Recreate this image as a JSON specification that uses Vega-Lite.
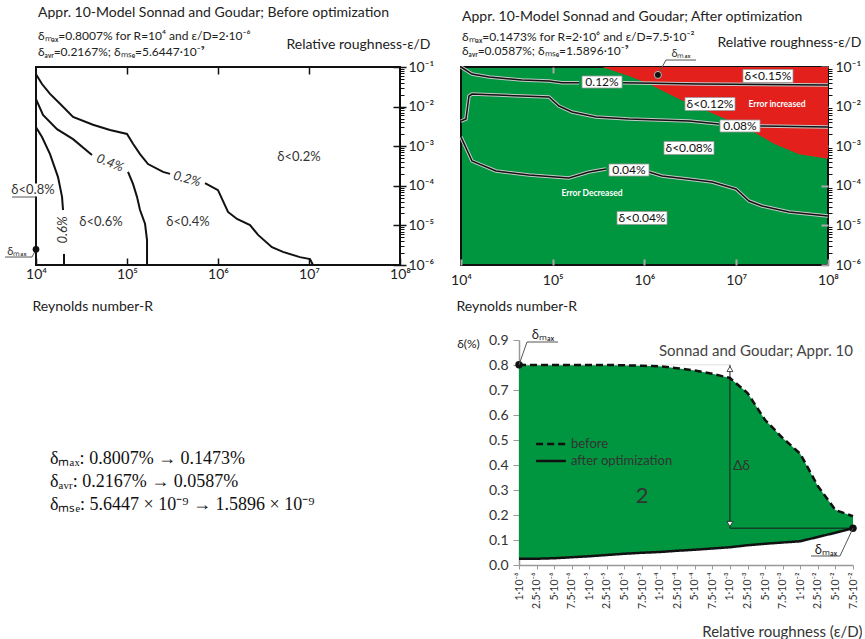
{
  "$schema": "https://vega.github.io/schema/vega-lite/v6.json",
  "padding": {"left": 2, "top": 5, "right": 0, "bottom": 0},
  "background": "white",
  "spacing": 15,
  "resolve": {"legend": {"strokeDash": "independent", "shape": "independent"}},
  "config": {
    "font": "Lato",
    "view": {"stroke": null},
    "axis": {"grid": false, "labelFont": "Lato", "titleFont": "Lato", "labelColor": "#222", "titleColor": "#222", "titleFontWeight": "normal", "labelFlush": false, "labelOverlap": false, "labelBound": false},
    "title": {"font": "Lato", "subtitleFont": "Lato", "fontWeight": "normal", "color": "#222", "subtitleColor": "#222"},
    "text": {"font": "Lato"}
  },
  "datasets": {
    "tl_lines": [
      {"seg":"A1","k":1,"R":10000,"eps":0.066},{"seg":"A1","k":2,"R":11640,"eps":0.0372},{"seg":"A1","k":3,"R":14260,"eps":0.0209},{"seg":"A1","k":4,"R":18370,"eps":0.01175},{"seg":"A1","k":5,"R":25530,"eps":0.0055},{"seg":"A1","k":6,"R":42270,"eps":0.00347},{"seg":"A1","k":7,"R":65010,"eps":0.00257},{"seg":"A1","k":8,"R":100000,"eps":0.00204},{"seg":"A1","k":9,"R":116400,"eps":0.00115},{"seg":"A1","k":10,"R":139000,"eps":0.00063},{"seg":"A1","k":11,"R":170200,"eps":0.000355},{"seg":"A1","k":12,"R":248900,"eps":0.000224},{"seg":"A1","k":13,"R":297200,"eps":0.0002},
      {"seg":"A2","k":1,"R":719500,"eps":0.000117},{"seg":"A2","k":2,"R":1000000,"eps":7.76e-5},{"seg":"A2","k":3,"R":1288000,"eps":2.19e-5},{"seg":"A2","k":4,"R":1618000,"eps":1.45e-5},{"seg":"A2","k":5,"R":2249000,"eps":1.02e-5},{"seg":"A2","k":6,"R":2754000,"eps":5.75e-6},{"seg":"A2","k":7,"R":3917000,"eps":2.82e-6},{"seg":"A2","k":8,"R":5176000,"eps":2.14e-6},{"seg":"A2","k":9,"R":7943000,"eps":1.58e-6},{"seg":"A2","k":10,"R":10260000,"eps":1.41e-6},{"seg":"A2","k":11,"R":11070000,"eps":1e-6},
      {"seg":"B1","k":1,"R":10000,"eps":0.0155},{"seg":"B1","k":2,"R":11940,"eps":0.00617},{"seg":"B1","k":3,"R":17020,"eps":0.00269},{"seg":"B1","k":4,"R":25530,"eps":0.00151},{"seg":"B1","k":5,"R":41210,"eps":0.000603},
      {"seg":"B2","k":1,"R":102600,"eps":0.000224},{"seg":"B2","k":2,"R":116400,"eps":0.000112},{"seg":"B2","k":3,"R":128800,"eps":5.25e-5},{"seg":"B2","k":4,"R":139000,"eps":2.45e-5},{"seg":"B2","k":5,"R":157800,"eps":1.1e-5},{"seg":"B2","k":6,"R":166000,"eps":4.27e-6},{"seg":"B2","k":7,"R":166000,"eps":1e-6},
      {"seg":"C1","k":1,"R":10000,"eps":0.00302},{"seg":"C1","k":2,"R":11640,"eps":0.0017},{"seg":"C1","k":3,"R":14260,"eps":0.00063},{"seg":"C1","k":4,"R":17460,"eps":0.000166},{"seg":"C1","k":5,"R":19320,"eps":5.25e-5},{"seg":"C1","k":6,"R":19820,"eps":2.45e-5},
      {"seg":"C2","k":1,"R":20320,"eps":1.9e-6},{"seg":"C2","k":2,"R":20320,"eps":1e-6}
    ],
    "tr_lines": [
      {"seg":"L12a","k":1,"R":10000,"eps":0.1},{"seg":"L12a","k":2,"R":13180,"eps":0.0665},{"seg":"L12a","k":3,"R":20180,"eps":0.0562},{"seg":"L12a","k":4,"R":46240,"eps":0.0468},{"seg":"L12a","k":5,"R":90990,"eps":0.0443},{"seg":"L12a","k":6,"R":125900,"eps":0.0398},{"seg":"L12a","k":7,"R":193200,"eps":0.0398},
      {"seg":"L12b","k":1,"R":583400,"eps":0.0398},{"seg":"L12b","k":2,"R":3926000,"eps":0.0372},{"seg":"L12b","k":3,"R":100000000,"eps":0.0351},
      {"seg":"L08a","k":1,"R":10000,"eps":0.00432},{"seg":"L08a","k":2,"R":11320,"eps":0.00486},{"seg":"L08a","k":3,"R":12220,"eps":0.0185},{"seg":"L08a","k":4,"R":13180,"eps":0.0208},{"seg":"L08a","k":5,"R":90990,"eps":0.01746},{"seg":"L08a","k":6,"R":117000,"eps":0.01035},{"seg":"L08a","k":7,"R":162200,"eps":0.00731},{"seg":"L08a","k":8,"R":295800,"eps":0.00546},{"seg":"L08a","k":9,"R":677600,"eps":0.00486},{"seg":"L08a","k":10,"R":3055000,"eps":0.00432},{"seg":"L08a","k":11,"R":6486000,"eps":0.00363},
      {"seg":"L08b","k":1,"R":17700000,"eps":0.00324},{"seg":"L08b","k":2,"R":100000000,"eps":0.00305},
      {"seg":"L04a","k":1,"R":10000,"eps":0.0017},{"seg":"L04a","k":2,"R":13180,"eps":0.000423},{"seg":"L04a","k":3,"R":24040,"eps":0.000237},{"seg":"L04a","k":4,"R":55080,"eps":0.000187},{"seg":"L04a","k":5,"R":150300,"eps":0.000157},{"seg":"L04a","k":6,"R":248300,"eps":0.000223},{"seg":"L04a","k":7,"R":380200,"eps":0.000265},
      {"seg":"L04b","k":1,"R":1119000,"eps":0.000223},{"seg":"L04b","k":2,"R":1552000,"eps":0.000177},{"seg":"L04b","k":3,"R":3639000,"eps":0.00014},{"seg":"L04b","k":4,"R":5445000,"eps":0.000125},{"seg":"L04b","k":5,"R":9930000,"eps":8.3e-5},{"seg":"L04b","k":6,"R":13770000,"eps":4.13e-5},{"seg":"L04b","k":7,"R":19100000,"eps":3.09e-5},{"seg":"L04b","k":8,"R":37580000,"eps":2.18e-5},{"seg":"L04b","k":9,"R":100000000,"eps":1.73e-5}
    ],
    "br": [
      {"eps":"1·10⁻⁶","before":0.8007,"after":0.025},
      {"eps":"2.5·10⁻⁶","before":0.800,"after":0.025},
      {"eps":"5·10⁻⁶","before":0.800,"after":0.027},
      {"eps":"7.5·10⁻⁶","before":0.800,"after":0.031},
      {"eps":"1·10⁻⁵","before":0.800,"after":0.035},
      {"eps":"2.5·10⁻⁵","before":0.800,"after":0.040},
      {"eps":"5·10⁻⁵","before":0.799,"after":0.045},
      {"eps":"7.5·10⁻⁵","before":0.797,"after":0.049},
      {"eps":"1·10⁻⁴","before":0.795,"after":0.052},
      {"eps":"2.5·10⁻⁴","before":0.787,"after":0.057},
      {"eps":"5·10⁻⁴","before":0.778,"after":0.061},
      {"eps":"7.5·10⁻⁴","before":0.765,"after":0.066},
      {"eps":"1·10⁻³","before":0.748,"after":0.071},
      {"eps":"2.5·10⁻³","before":0.688,"after":0.079},
      {"eps":"5·10⁻³","before":0.58,"after":0.085},
      {"eps":"7.5·10⁻³","before":0.508,"after":0.090},
      {"eps":"1·10⁻²","before":0.445,"after":0.095},
      {"eps":"2.5·10⁻²","before":0.316,"after":0.112},
      {"eps":"5·10⁻²","before":0.22,"after":0.129},
      {"eps":"7.5·10⁻²","before":0.195,"after":0.1473}
    ]
  },
  "vconcat": [
    {
      "spacing": 14,
      "hconcat": [
        {
          "width": 364, "height": 198,
          "title": {"text": "Appr. 10-Model Sonnad and Goudar; Before optimization", "subtitle": ["δₘₐₓ=0.8007% for R=10⁴ and ε/D=2·10⁻⁶", "δₐᵥᵣ=0.2167%; δₘₛₑ=5.6447·10⁻⁹"], "anchor": "start", "frame": "group", "fontSize": 14, "subtitleFontSize": 12, "subtitlePadding": 11, "subtitleLineHeight": 16, "offset": -21, "dx": 2},
          "view": {"stroke": "#111", "strokeWidth": 2},
          "resolve": {"axis": {"x": "independent", "y": "independent"}},
          "layer": [
            {
              "data": {"name": "tl_lines"},
              "mark": {"type": "line", "color": "#111", "strokeWidth": 2},
              "encoding": {
                "x": {"field": "R", "type": "quantitative", "scale": {"type": "log", "domain": [10000, 100000000], "nice": false},
                  "axis": {"orient": "bottom", "values": [10000, 100000, 1000000, 10000000, 100000000], "labelExpr": "'10' + ['⁰','¹','²','³','⁴','⁵','⁶','⁷','⁸','⁹'][round(log(datum.value)/LN10)]", "tickSize": -7, "tickColor": "#111", "tickWidth": 1.5, "domain": false, "labelFontSize": 14, "labelPadding": 9, "title": "Reynolds number-R", "titleFontSize": 14, "titleAlign": "left", "titleBaseline": "middle", "titleX": -4, "titleY": 41}},
                "y": {"field": "eps", "type": "quantitative", "scale": {"type": "log", "domain": [1e-6, 0.1], "nice": false},
                  "axis": {"orient": "right", "values": [1e-6, 1e-5, 1e-4, 1e-3, 1e-2, 0.1], "labelExpr": "'10⁻' + ['⁰','¹','²','³','⁴','⁵','⁶','⁷','⁸','⁹'][round(-log(datum.value)/LN10)]", "tickSize": 6, "tickColor": "#111", "tickWidth": 1.5, "domain": false, "labelFontSize": 14, "labelPadding": 2, "title": "Relative roughness-ε/D", "titleFontSize": 14, "titleAngle": 0, "titleAlign": "right", "titleBaseline": "middle", "titleX": 30, "titleY": -23}},
                "detail": {"field": "seg"},
                "order": {"field": "k"}
              }
            },
            {
              "data": {"values": [{"R": 7760000, "eps": 0.000537, "t": "δ<0.2%"}, {"R": 467700, "eps": 1.23e-5, "t": "δ<0.4%"}, {"R": 51760, "eps": 1.23e-5, "t": "δ<0.6%"}]},
              "mark": {"type": "text", "fontSize": 13, "color": "#333"},
              "encoding": {
                "x": {"field": "R", "type": "quantitative", "scale": {"type": "log", "domain": [10000, 100000000], "nice": false},
                  "axis": {"orient": "top", "values": [100000, 1000000, 10000000], "labels": false, "tickSize": -7, "tickColor": "#111", "tickWidth": 1.5, "domain": false, "title": null}},
                "y": {"field": "eps", "type": "quantitative", "scale": {"type": "log", "domain": [1e-6, 0.1], "nice": false},
                  "axis": {"orient": "right", "values": [2e-6,3e-6,4e-6,5e-6,6e-6,7e-6,8e-6,9e-6,2e-5,3e-5,4e-5,5e-5,6e-5,7e-5,8e-5,9e-5,2e-4,3e-4,4e-4,5e-4,6e-4,7e-4,8e-4,9e-4,2e-3,3e-3,4e-3,5e-3,6e-3,7e-3,8e-3,9e-3,2e-2,3e-2,4e-2,5e-2,6e-2,7e-2,8e-2,9e-2], "labels": false, "tickSize": 4, "tickColor": "#111", "tickWidth": 1, "domain": false, "title": null}},
                "text": {"field": "t"}
              }
            },
            {
              "data": {"values": [{"R": 456000, "eps": 0.000148, "t": "0.2%"}]},
              "mark": {"type": "text", "fontSize": 13, "fontStyle": "italic", "color": "#333", "angle": 15},
              "encoding": {
                "x": {"field": "R", "type": "quantitative", "scale": {"type": "log", "domain": [10000, 100000000], "nice": false}, "axis": null},
                "y": {"field": "eps", "type": "quantitative", "scale": {"type": "log", "domain": [1e-6, 0.1], "nice": false},
                  "axis": {"orient": "right", "values": [1e-6, 1e-5, 1e-4, 1e-3, 1e-2, 0.1], "labels": false, "tickSize": -7, "tickColor": "#111", "tickWidth": 1.5, "domain": false, "title": null}},
                "text": {"field": "t"}
              }
            },
            {
              "data": {"values": [{"R": 65000, "eps": 0.000377, "t": "0.4%"}]},
              "mark": {"type": "text", "fontSize": 13, "fontStyle": "italic", "color": "#333", "angle": 22},
              "encoding": {
                "x": {"field": "R", "type": "quantitative", "scale": {"type": "log", "domain": [10000, 100000000], "nice": false}, "axis": null},
                "y": {"field": "eps", "type": "quantitative", "scale": {"type": "log", "domain": [1e-6, 0.1], "nice": false}, "axis": null},
                "text": {"field": "t"}
              }
            },
            {
              "data": {"values": [{"R": 19800, "eps": 7.65e-6, "t": "0.6%"}]},
              "mark": {"type": "text", "fontSize": 13, "fontStyle": "italic", "color": "#333", "angle": 270},
              "encoding": {
                "x": {"field": "R", "type": "quantitative", "scale": {"type": "log", "domain": [10000, 100000000], "nice": false}, "axis": null},
                "y": {"field": "eps", "type": "quantitative", "scale": {"type": "log", "domain": [1e-6, 0.1], "nice": false}, "axis": null},
                "text": {"field": "t"}
              }
            },
            {
              "data": {"values": [{"R": 9270, "eps": 7.83e-5}]},
              "mark": {"type": "point", "shape": "M-1,-0.3H1V0.3H-1Z", "size": 1936, "filled": true, "fill": "white", "opacity": 1, "strokeWidth": 0},
              "encoding": {
                "x": {"field": "R", "type": "quantitative", "scale": {"type": "log", "domain": [10000, 100000000], "nice": false}, "axis": null},
                "y": {"field": "eps", "type": "quantitative", "scale": {"type": "log", "domain": [1e-6, 0.1], "nice": false}, "axis": null}
              }
            },
            {
              "data": {"values": [{"R": 9270, "eps": 7.83e-5, "t": "δ<0.8%"}]},
              "mark": {"type": "text", "fontSize": 13, "color": "#333"},
              "encoding": {
                "x": {"field": "R", "type": "quantitative", "scale": {"type": "log", "domain": [10000, 100000000], "nice": false}, "axis": null},
                "y": {"field": "eps", "type": "quantitative", "scale": {"type": "log", "domain": [1e-6, 0.1], "nice": false}, "axis": null},
                "text": {"field": "t"}
              }
            },
            {
              "data": {"values": [{"R": 6170, "eps": 2.1e-6, "t": "δₘₐₓ"}]},
              "mark": {"type": "text", "fontSize": 11, "color": "#333"},
              "encoding": {
                "x": {"field": "R", "type": "quantitative", "scale": {"type": "log", "domain": [10000, 100000000], "nice": false}, "axis": null},
                "y": {"field": "eps", "type": "quantitative", "scale": {"type": "log", "domain": [1e-6, 0.1], "nice": false}, "axis": null},
                "text": {"field": "t"}
              }
            },
            {
              "data": {"values": [{"seg": "m", "k": 1, "R": 4571, "eps": 1.59e-6}, {"seg": "m", "k": 2, "R": 9036, "eps": 1.59e-6}, {"seg": "m", "k": 3, "R": 10000, "eps": 2.5e-6}, {"seg": "u", "k": 1, "R": 5450, "eps": 5.21e-5}, {"seg": "u", "k": 2, "R": 10000, "eps": 5.21e-5}]},
              "mark": {"type": "line", "color": "#555", "strokeWidth": 1},
              "encoding": {
                "x": {"field": "R", "type": "quantitative", "scale": {"type": "log", "domain": [10000, 100000000], "nice": false}, "axis": null},
                "y": {"field": "eps", "type": "quantitative", "scale": {"type": "log", "domain": [1e-6, 0.1], "nice": false}, "axis": null},
                "detail": {"field": "seg"},
                "order": {"field": "k"}
              }
            },
            {
              "data": {"values": [{"R": 10000, "eps": 2.5e-6}]},
              "mark": {"type": "point", "shape": "circle", "filled": true, "color": "#111", "opacity": 1, "size": 45},
              "encoding": {
                "x": {"field": "R", "type": "quantitative", "scale": {"type": "log", "domain": [10000, 100000000], "nice": false}, "axis": null},
                "y": {"field": "eps", "type": "quantitative", "scale": {"type": "log", "domain": [1e-6, 0.1], "nice": false}, "axis": null}
              }
            }
          ]
        },
        {
          "width": 367, "height": 198,
          "title": {"text": "Appr. 10-Model Sonnad and Goudar; After optimization", "subtitle": ["δₘₐₓ=0.1473% for R=2·10⁶ and ε/D=7.5·10⁻²", "δₐᵥᵣ=0.0587%; δₘₛₑ=1.5896·10⁻⁹"], "anchor": "start", "frame": "group", "fontSize": 14, "subtitleFontSize": 12, "subtitlePadding": 8, "subtitleLineHeight": 14, "offset": -22, "dx": 1},
          "view": {"fill": "#00963f", "stroke": "#111", "strokeWidth": 2},
          "resolve": {"axis": {"x": "independent", "y": "independent"}},
          "layer": [
            {
              "data": {"values": [{"R": 344400, "eps": 0.1}, {"R": 676100, "eps": 0.0589}, {"R": 1119000, "eps": 0.0372}, {"R": 2377000, "eps": 0.0155}, {"R": 5715000, "eps": 0.00646}, {"R": 13770000, "eps": 0.00269}, {"R": 25760000, "eps": 0.00115}, {"R": 48310000, "eps": 0.00063}, {"R": 100000000, "eps": 0.000479}]},
              "mark": {"type": "area", "color": "#e3201b", "opacity": 1},
              "encoding": {
                "x": {"field": "R", "type": "quantitative", "scale": {"type": "log", "domain": [10000, 100000000], "nice": false},
                  "axis": {"orient": "bottom", "values": [10000, 100000, 1000000, 10000000, 100000000], "labelExpr": "'10' + ['⁰','¹','²','³','⁴','⁵','⁶','⁷','⁸','⁹'][round(log(datum.value)/LN10)]", "tickSize": -6, "tickColor": "#aaa", "tickWidth": 2, "domain": false, "labelFontSize": 14, "labelPadding": 14, "title": "Reynolds number-R", "titleFontSize": 14, "titleAlign": "left", "titleBaseline": "middle", "titleX": -5, "titleY": 41}},
                "y": {"field": "eps", "type": "quantitative", "scale": {"type": "log", "domain": [1e-6, 0.1], "nice": false},
                  "axis": {"orient": "right", "values": [1e-6, 1e-5, 1e-4, 1e-3, 1e-2, 0.1], "labelExpr": "'10⁻' + ['⁰','¹','²','³','⁴','⁵','⁶','⁷','⁸','⁹'][round(-log(datum.value)/LN10)]", "tickSize": -7, "tickColor": "#aaa", "tickWidth": 2, "domain": false, "labelFontSize": 14, "labelPadding": 14, "title": "Relative roughness-ε/D", "titleFontSize": 14, "titleAngle": 0, "titleAlign": "right", "titleBaseline": "middle", "titleX": 33, "titleY": -25}},
                "y2": {"datum": 0.1}
              }
            },
            {
              "data": {"name": "tr_lines"},
              "mark": {"type": "line", "color": "#c8c8c8", "strokeWidth": 3.5},
              "encoding": {
                "x": {"field": "R", "type": "quantitative", "scale": {"type": "log", "domain": [10000, 100000000], "nice": false},
                  "axis": {"orient": "top", "values": [100000, 1000000, 10000000], "labels": false, "tickSize": -6, "tickColor": "#aaa", "tickWidth": 2, "domain": false, "title": null}},
                "y": {"field": "eps", "type": "quantitative", "scale": {"type": "log", "domain": [1e-6, 0.1], "nice": false},
                  "axis": {"orient": "right", "values": [2e-6,3e-6,4e-6,5e-6,6e-6,7e-6,8e-6,9e-6,2e-5,3e-5,4e-5,5e-5,6e-5,7e-5,8e-5,9e-5,2e-4,3e-4,4e-4,5e-4,6e-4,7e-4,8e-4,9e-4,2e-3,3e-3,4e-3,5e-3,6e-3,7e-3,8e-3,9e-3,2e-2,3e-2,4e-2,5e-2,6e-2,7e-2,8e-2,9e-2], "labels": false, "tickSize": 4, "tickColor": "#111", "tickWidth": 1, "domain": false, "title": null}},
                "detail": {"field": "seg"},
                "order": {"field": "k"}
              }
            },
            {
              "data": {"name": "tr_lines"},
              "mark": {"type": "line", "color": "#111", "strokeWidth": 1.5},
              "encoding": {
                "x": {"field": "R", "type": "quantitative", "scale": {"type": "log", "domain": [10000, 100000000], "nice": false}, "axis": null},
                "y": {"field": "eps", "type": "quantitative", "scale": {"type": "log", "domain": [1e-6, 0.1], "nice": false}, "axis": null},
                "detail": {"field": "seg"},
                "order": {"field": "k"}
              }
            },
            {
              "data": {"values": [{"R": 344400, "eps": 0.0418}, {"R": 10990000, "eps": 0.00324}, {"R": 677600, "eps": 0.00025}]},
              "mark": {"type": "point", "shape": "M-1,-0.3H1V0.3H-1Z", "size": 1600, "filled": true, "fill": "white", "stroke": "#999", "strokeWidth": 0.8, "opacity": 1},
              "encoding": {
                "x": {"field": "R", "type": "quantitative", "scale": {"type": "log", "domain": [10000, 100000000], "nice": false}, "axis": null},
                "y": {"field": "eps", "type": "quantitative", "scale": {"type": "log", "domain": [1e-6, 0.1], "nice": false}, "axis": null}
              }
            },
            {
              "data": {"values": [{"R": 22180000, "eps": 0.0593}, {"R": 5176000, "eps": 0.01164}, {"R": 3055000, "eps": 0.000902}, {"R": 939700, "eps": 1.54e-5}]},
              "mark": {"type": "point", "shape": "M-1,-0.26H1V0.26H-1Z", "size": 2500, "filled": true, "fill": "white", "stroke": "#999", "strokeWidth": 0.8, "opacity": 1},
              "encoding": {
                "x": {"field": "R", "type": "quantitative", "scale": {"type": "log", "domain": [10000, 100000000], "nice": false}, "axis": null},
                "y": {"field": "eps", "type": "quantitative", "scale": {"type": "log", "domain": [1e-6, 0.1], "nice": false}, "axis": null}
              }
            },
            {
              "data": {"values": [{"R": 344400, "eps": 0.0418, "t": "0.12%"}, {"R": 10990000, "eps": 0.00324, "t": "0.08%"}, {"R": 677600, "eps": 0.00025, "t": "0.04%"}, {"R": 22180000, "eps": 0.0593, "t": "δ<0.15%"}, {"R": 5176000, "eps": 0.01164, "t": "δ<0.12%"}, {"R": 3055000, "eps": 0.000902, "t": "δ<0.08%"}, {"R": 939700, "eps": 1.54e-5, "t": "δ<0.04%"}]},
              "mark": {"type": "text", "fontSize": 12, "color": "#111", "baseline": "middle"},
              "encoding": {
                "x": {"field": "R", "type": "quantitative", "scale": {"type": "log", "domain": [10000, 100000000], "nice": false}, "axis": null},
                "y": {"field": "eps", "type": "quantitative", "scale": {"type": "log", "domain": [1e-6, 0.1], "nice": false}, "axis": null},
                "text": {"field": "t"}
              }
            },
            {
              "data": {"values": [{"R": 27800000, "eps": 0.01164, "t": "Error increased"}, {"R": 267900, "eps": 6.58e-5, "t": "Error Decreased"}]},
              "mark": {"type": "text", "fontSize": 8.5, "fontWeight": "bold", "color": "white", "baseline": "middle"},
              "encoding": {
                "x": {"field": "R", "type": "quantitative", "scale": {"type": "log", "domain": [10000, 100000000], "nice": false}, "axis": null},
                "y": {"field": "eps", "type": "quantitative", "scale": {"type": "log", "domain": [1e-6, 0.1], "nice": false}, "axis": null},
                "text": {"field": "t"}
              }
            },
            {
              "data": {"values": [{"k": 1, "R": 1400000, "eps": 0.063}, {"k": 2, "R": 1714000, "eps": 0.15}, {"k": 3, "R": 3640000, "eps": 0.15}]},
              "mark": {"type": "line", "color": "#555", "strokeWidth": 1},
              "encoding": {
                "x": {"field": "R", "type": "quantitative", "scale": {"type": "log", "domain": [10000, 100000000], "nice": false}, "axis": null},
                "y": {"field": "eps", "type": "quantitative", "scale": {"type": "log", "domain": [1e-6, 0.1], "nice": false}, "axis": null},
                "order": {"field": "k"}
              }
            },
            {
              "data": {"values": [{"R": 1400000, "eps": 0.063}]},
              "mark": {"type": "point", "shape": "circle", "filled": true, "fill": "#111", "stroke": "#bbb", "strokeWidth": 1, "opacity": 1, "size": 50},
              "encoding": {
                "x": {"field": "R", "type": "quantitative", "scale": {"type": "log", "domain": [10000, 100000000], "nice": false}, "axis": null},
                "y": {"field": "eps", "type": "quantitative", "scale": {"type": "log", "domain": [1e-6, 0.1], "nice": false}, "axis": null}
              }
            },
            {
              "data": {"values": [{"R": 2500000, "eps": 0.213, "t": "δₘₐₓ"}]},
              "mark": {"type": "text", "fontSize": 11, "color": "#333"},
              "encoding": {
                "x": {"field": "R", "type": "quantitative", "scale": {"type": "log", "domain": [10000, 100000000], "nice": false}, "axis": null},
                "y": {"field": "eps", "type": "quantitative", "scale": {"type": "log", "domain": [1e-6, 0.1], "nice": false}, "axis": null},
                "text": {"field": "t"}
              }
            }
          ]
        }
      ]
    },
    {
      "spacing": 40,
      "resolve": {"legend": {"strokeDash": "independent", "shape": "independent"}},
      "hconcat": [
        {
          "width": 380, "height": 165,
          "data": {"values": [{"line": 1, "text": "δₘₐₓ: 0.8007% → 0.1473%"}, {"line": 2, "text": "δₐᵥᵣ: 0.2167% → 0.0587%"}, {"line": 3, "text": "δₘₛₑ: 5.6447 × 10⁻⁹ → 1.5896 × 10⁻⁹"}]},
          "mark": {"type": "text", "align": "left", "baseline": "middle", "font": "Liberation Serif", "fontSize": 18, "color": "#111"},
          "encoding": {
            "x": {"value": 14},
            "y": {"field": "line", "type": "quantitative", "scale": {"domain": [-4.174, 3], "reverse": true, "nice": false, "zero": false}, "axis": null},
            "text": {"field": "text"}
          }
        },
        {
          "width": 334, "height": 225,
          "resolve": {"axis": {"x": "independent", "y": "independent"}},
          "layer": [
            {
              "data": {"name": "br"},
              "mark": {"type": "area", "color": "#00963f", "opacity": 1},
              "encoding": {
                "x": {"field": "eps", "type": "ordinal", "scale": {"type": "point", "padding": 0, "domain": ["1·10⁻⁶","2.5·10⁻⁶","5·10⁻⁶","7.5·10⁻⁶","1·10⁻⁵","2.5·10⁻⁵","5·10⁻⁵","7.5·10⁻⁵","1·10⁻⁴","2.5·10⁻⁴","5·10⁻⁴","7.5·10⁻⁴","1·10⁻³","2.5·10⁻³","5·10⁻³","7.5·10⁻³","1·10⁻²","2.5·10⁻²","5·10⁻²","7.5·10⁻²"]},
                  "axis": {"labelAngle": 270, "labelFontSize": 10.5, "labelColor": "#333", "labelPadding": 3, "tickSize": 4, "tickColor": "#999", "domainColor": "#999", "domainWidth": 1.5, "title": "Relative roughness (ε/D)", "titleFontSize": 15, "titleColor": "#333", "titleAlign": "right", "titleBaseline": "middle", "titleX": 343, "titleY": 66}},
                "y": {"field": "after", "type": "quantitative", "scale": {"domain": [0, 0.9], "nice": false},
                  "axis": {"values": [0, 0.1, 0.2, 0.3, 0.4, 0.5, 0.6, 0.7, 0.8, 0.9], "format": ".1f", "labelFontSize": 14, "labelColor": "#333", "labelPadding": 5, "tickSize": 6, "tickColor": "#999", "domainColor": "#999", "domainWidth": 1.5, "title": "δ(%)", "titleFontSize": 12, "titleColor": "#222", "titleAngle": 0, "titleAlign": "center", "titleBaseline": "middle", "titleX": -51, "titleY": 3}},
                "y2": {"field": "before"}
              }
            },
            {
              "data": {"values": [{"a": "1·10⁻⁶", "b": "1·10⁻³", "v": 0.8007}]},
              "mark": {"type": "rule", "color": "#e0e0e0", "strokeWidth": 1},
              "encoding": {
                "x": {"field": "a", "type": "ordinal", "axis": null},
                "x2": {"field": "b"},
                "y": {"field": "v", "type": "quantitative", "axis": null}
              }
            },
            {
              "data": {"values": [{"a": "1·10⁻³", "lo": 0.1473, "hi": 0.8007}]},
              "mark": {"type": "rule", "color": "#1a1a1a", "strokeWidth": 1},
              "encoding": {"x": {"field": "a", "type": "ordinal", "axis": null}, "y": {"field": "lo", "type": "quantitative", "axis": null}, "y2": {"field": "hi"}}
            },
            {
              "data": {"values": [{"a": "1·10⁻³", "b": "7.5·10⁻²", "v": 0.1473}]},
              "mark": {"type": "rule", "color": "#1a1a1a", "strokeWidth": 1},
              "encoding": {"x": {"field": "a", "type": "ordinal", "axis": null}, "x2": {"field": "b"}, "y": {"field": "v", "type": "quantitative", "axis": null}}
            },
            {
              "data": {"name": "br"},
              "transform": [{"fold": ["before", "after"], "as": ["series", "delta"]}],
              "mark": {"type": "line", "color": "#111", "strokeWidth": 2.5},
              "encoding": {
                "x": {"field": "eps", "type": "ordinal", "axis": null},
                "y": {"field": "delta", "type": "quantitative", "axis": null},
                "strokeDash": {"field": "series", "type": "nominal", "scale": {"domain": ["before", "after"], "range": [[7, 4], [1, 0]]},
                  "legend": {"orient": "none", "legendX": 22, "legendY": 94, "title": null, "symbolType": "M-1.75,0H1.75", "symbolStrokeWidth": 2.5, "symbolSize": 289, "symbolStrokeColor": "#111", "labelFontSize": 13, "labelColor": "#333", "labelOffset": 10, "rowPadding": 0, "labelExpr": "datum.label == 'after' ? 'after optimization' : datum.label"}}
              }
            },
            {
              "data": {"values": [{"a": "1·10⁻³", "v": 0.784, "s": "up"}, {"a": "1·10⁻³", "v": 0.164, "s": "down"}]},
              "mark": {"type": "point", "filled": true, "fill": "white", "stroke": "#222", "strokeWidth": 0.8, "opacity": 1, "size": 35},
              "encoding": {
                "x": {"field": "a", "type": "ordinal", "axis": null},
                "y": {"field": "v", "type": "quantitative", "axis": null},
                "shape": {"field": "s", "type": "nominal", "scale": {"domain": ["up", "down"], "range": ["triangle-up", "triangle-down"]}, "legend": null}
              }
            },
            {
              "data": {"values": [{"a": "1·10⁻⁶", "v": 0.8007}, {"a": "7.5·10⁻²", "v": 0.1473}]},
              "mark": {"type": "point", "shape": "circle", "filled": true, "color": "#111", "opacity": 1, "size": 55},
              "encoding": {
                "x": {"field": "a", "type": "ordinal", "axis": null},
                "y": {"field": "v", "type": "quantitative", "axis": null}
              }
            },
            {
              "data": {"values": [{"a": "1·10⁻⁶", "v1": 0.8007, "v2": 0.892}]},
              "mark": {"type": "rule", "color": "#555", "strokeWidth": 1, "x2Offset": 8},
              "encoding": {"x": {"field": "a", "type": "ordinal", "axis": null}, "x2": {"field": "a"}, "y": {"field": "v1", "type": "quantitative", "axis": null}, "y2": {"field": "v2"}}
            },
            {
              "data": {"values": [{"a": "1·10⁻⁶", "v": 0.892}]},
              "mark": {"type": "rule", "color": "#555", "strokeWidth": 1, "xOffset": 8, "x2Offset": 39},
              "encoding": {"x": {"field": "a", "type": "ordinal", "axis": null}, "x2": {"field": "a"}, "y": {"field": "v", "type": "quantitative", "axis": null}}
            },
            {
              "data": {"values": [{"a": "7.5·10⁻²", "v1": 0.1473, "v2": 0.036}]},
              "mark": {"type": "rule", "color": "#555", "strokeWidth": 1, "x2Offset": -13},
              "encoding": {"x": {"field": "a", "type": "ordinal", "axis": null}, "x2": {"field": "a"}, "y": {"field": "v1", "type": "quantitative", "axis": null}, "y2": {"field": "v2"}}
            },
            {
              "data": {"values": [{"a": "7.5·10⁻²", "v": 0.036}]},
              "mark": {"type": "rule", "color": "#555", "strokeWidth": 1, "xOffset": -13, "x2Offset": -42},
              "encoding": {"x": {"field": "a", "type": "ordinal", "axis": null}, "x2": {"field": "a"}, "y": {"field": "v", "type": "quantitative", "axis": null}}
            },
            {
              "data": {"values": [{"a": "1·10⁻⁶", "v": 0.92, "t": "δₘₐₓ"}]},
              "mark": {"type": "text", "fontSize": 13, "color": "#222", "dx": 24},
              "encoding": {"x": {"field": "a", "type": "ordinal", "axis": null}, "y": {"field": "v", "type": "quantitative", "axis": null}, "text": {"field": "t"}}
            },
            {
              "data": {"values": [{"a": "7.5·10⁻²", "v": 0.062, "t": "δₘₐₓ"}]},
              "mark": {"type": "text", "fontSize": 13, "color": "#222", "dx": -27},
              "encoding": {"x": {"field": "a", "type": "ordinal", "axis": null}, "y": {"field": "v", "type": "quantitative", "axis": null}, "text": {"field": "t"}}
            },
            {
              "data": {"values": [{"a": "7.5·10⁻²", "v": 0.856, "t": "Sonnad and Goudar; Appr. 10"}]},
              "mark": {"type": "text", "fontSize": 15, "color": "#444", "align": "right"},
              "encoding": {"x": {"field": "a", "type": "ordinal", "axis": null}, "y": {"field": "v", "type": "quantitative", "axis": null}, "text": {"field": "t"}}
            },
            {
              "data": {"values": [{"a": "7.5·10⁻⁵", "v": 0.276, "t": "2"}]},
              "mark": {"type": "text", "fontSize": 22, "color": "#333"},
              "encoding": {"x": {"field": "a", "type": "ordinal", "axis": null}, "y": {"field": "v", "type": "quantitative", "axis": null}, "text": {"field": "t"}}
            },
            {
              "data": {"values": [{"a": "1·10⁻³", "v": 0.396, "t": "Δδ"}]},
              "mark": {"type": "text", "fontSize": 14, "color": "#333", "align": "left", "dx": 3},
              "encoding": {"x": {"field": "a", "type": "ordinal", "axis": null}, "y": {"field": "v", "type": "quantitative", "axis": null}, "text": {"field": "t"}}
            }
          ]
        }
      ]
    }
  ]
}
